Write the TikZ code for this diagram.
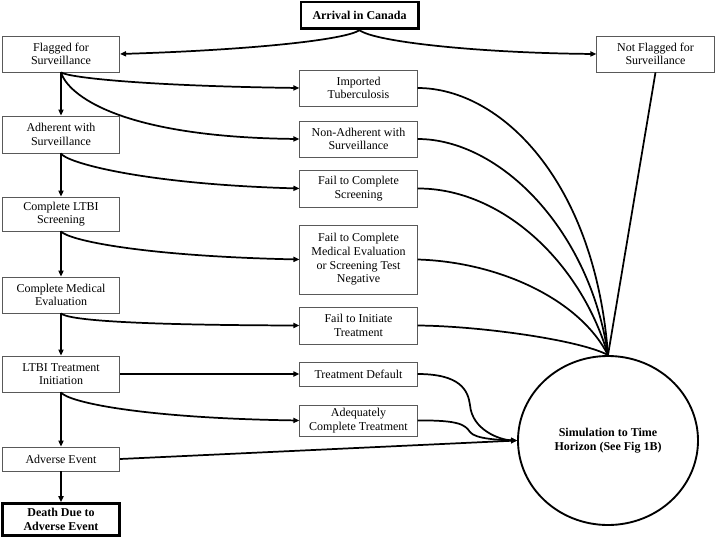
\documentclass[tikz,border=0pt]{standalone}
\usepackage{fontspec}
\setmainfont{Liberation Serif}
\usetikzlibrary{shapes.geometric,arrows.meta}
\begin{document}
\begin{tikzpicture}[x=0.75pt,y=-0.75pt,
  box/.style={draw=black!65,line width=0.6pt,rectangle,align=center,inner sep=0pt,
    minimum width=88pt,font=\fontsize{9}{10.2}\selectfont},
  keybox/.style={box,draw=black,line width=2pt,font=\fontsize{9}{10.2}\selectfont\bfseries},
  conn/.style={line width=1.3pt,black},
  arr/.style={conn,-{Triangle[length=4.5pt,width=3.8pt]}}
]
\useasboundingbox (0,0) rectangle (716,538);
% nodes
\node[keybox,minimum height=20pt] (arrv) at (359.5,15.5) {Arrival in Canada};
\node[box,minimum height=27pt] (flag) at (61,54) {Flagged for\\Surveillance};
\node[box,minimum height=27.75pt] (adh) at (61,134.5) {Adherent with\\Surveillance};
\node[box,minimum height=25.5pt] (scr) at (61,214) {Complete LTBI\\Screening};
\node[box,minimum height=27pt] (med) at (61,295) {Complete Medical\\Evaluation};
\node[box,minimum height=27pt] (ltbi) at (61,374) {LTBI Treatment\\Initiation};
\node[box,minimum height=18pt] (adv) at (61,459) {Adverse Event};
\node[keybox,minimum height=24pt] (death) at (61,519.5) {Death Due to\\Adverse Event};
\node[box,minimum height=27pt] (imp) at (358.5,88) {Imported\\Tuberculosis};
\node[box,minimum height=27pt] (non) at (358.5,139) {Non-Adherent with\\Surveillance};
\node[box,minimum height=27.75pt] (fcs) at (358.5,188.5) {Fail to Complete\\Screening};
\node[box,minimum height=51.75pt] (fme) at (358.5,259.5) {Fail to Complete\\Medical Evaluation\\or Screening Test\\Negative};
\node[box,minimum height=27.75pt] (fit) at (358.5,325.5) {Fail to Initiate\\Treatment};
\node[box,minimum height=18pt] (td) at (358.5,374) {Treatment Default};
\node[box,minimum height=23.25pt] (act) at (358.5,420.5) {Adequately\\Complete Treatment};
\node[box,minimum height=27pt] (notf) at (655.5,54) {Not Flagged for\\Surveillance};
\node[ellipse,draw=black,line width=1.4pt,inner sep=0pt,minimum width=135pt,minimum height=126.75pt,
  align=center,font=\fontsize{9}{10.2}\selectfont\bfseries] (sim) at (608,440.5) {Simulation to Time\\Horizon (See Fig 1B)};
% connectors from arrival
\draw[arr] (arrv.south) .. controls (345,40) and (250,50) .. (flag.east);
\draw[arr] (arrv.south) .. controls (375,42) and (480,53) .. (notf.west);
% left column vertical
\draw[arr] (flag.south) -- (adh.north);
\draw[arr] (adh.south) -- (scr.north);
\draw[arr] (scr.south) -- (med.north);
\draw[arr] (med.south) -- (ltbi.north);
\draw[arr] (ltbi.south) -- (adv.north);
\draw[arr] (adv.south) -- (death.north);
% branches to middle column
\draw[arr] (flag.south) .. controls (70,78) and (150,86) .. (imp.west);
\draw[arr] (flag.south) .. controls (68,95) and (120,137) .. (non.west);
\draw[arr] (adh.south) .. controls (65,162) and (140,184) .. (fcs.west);
\draw[arr] (scr.south) .. controls (68,240) and (140,256) .. (fme.west);
\draw[arr] (med.south) .. controls (68,320) and (130,325) .. (fit.west);
\draw[arr] (ltbi.east) -- (td.west);
\draw[arr] (ltbi.south) .. controls (68,402) and (140,418) .. (act.west);
% to simulation (left)
\draw[arr] (adv.east) -- (sim.west);
\draw[arr] (td.east) .. controls (460,374) and (468,390) .. (470,405) .. controls (472,430) and (500,440) .. (sim.west);
\draw[arr] (act.east) .. controls (460,420) and (465,425) .. (470,432) .. controls (475,439) and (500,440) .. (sim.west);
% to simulation (top)
\draw[conn] (imp.east) .. controls (500,88) and (595,180) .. (sim.north);
\draw[conn] (non.east) .. controls (500,139) and (590,230) .. (sim.north);
\draw[conn] (fcs.east) .. controls (500,188) and (580,260) .. (sim.north);
\draw[conn] (fme.east) .. controls (500,262) and (580,300) .. (sim.north);
\draw[conn] (fit.east) .. controls (480,326) and (580,340) .. (sim.north);
\draw[conn] (notf.south) -- (sim.north);
\end{tikzpicture}
\end{document}
